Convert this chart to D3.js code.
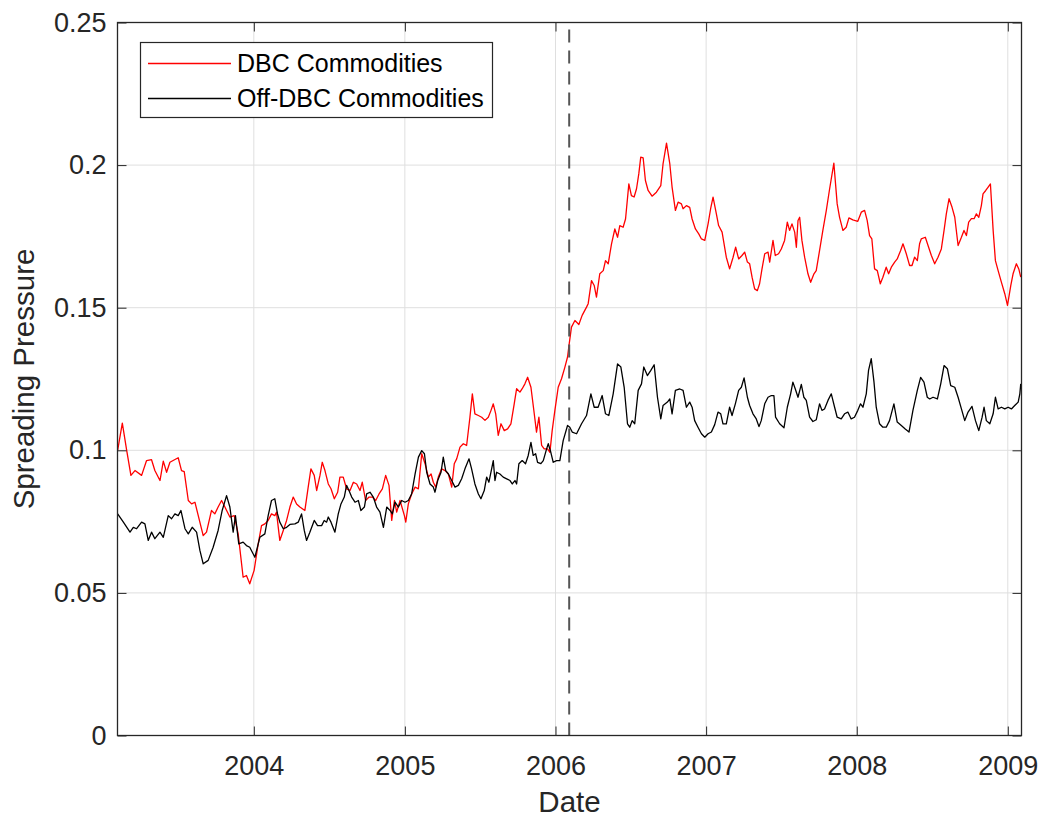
<!DOCTYPE html>
<html><head><meta charset="utf-8">
<script src="https://cdn.jsdelivr.net/npm/d3@7"></script>
<style>
html,body{margin:0;padding:0;background:#fff;}
svg{display:block;font-family:"Liberation Sans",Arial,Helvetica,sans-serif;}
</style></head><body>
<svg id="chart" width="1040" height="819"></svg>
<script>
// ---------------- data ----------------
const xTickYears = [2004, 2005, 2006, 2007, 2008, 2009];
const yTicks = [0, 0.05, 0.1, 0.15, 0.2, 0.25];
const xDomainYears = [2003.095, 2009.091];
const yDomain = [0, 0.25];
const launchYear = 2006.091;   // DBC launch (dashed line)
const seriesNames = ["DBC Commodities", "Off-DBC Commodities"];
const xLabel = "Date";
const yLabel = "Spreading Pressure";

// [decimal year, value]
const dbcPoints = [
[2003.096,0.1000],[2003.127,0.1095],[2003.156,0.1000],[2003.184,0.0912],[2003.211,0.0929],[2003.255,0.0912],
[2003.288,0.0964],[2003.321,0.0967],[2003.343,0.0929],[2003.377,0.0894],[2003.399,0.0962],[2003.421,0.0923],
[2003.443,0.0958],[2003.498,0.0974],[2003.520,0.0929],[2003.538,0.0925],[2003.565,0.0824],[2003.587,0.0812],
[2003.609,0.0818],[2003.664,0.0701],[2003.686,0.0713],[2003.719,0.0789],[2003.741,0.0777],[2003.763,0.0801],
[2003.786,0.0824],[2003.808,0.0801],[2003.841,0.0766],[2003.870,0.0771],[2003.896,0.0707],[2003.929,0.0555],
[2003.951,0.0561],[2003.973,0.0532],[2004.002,0.0579],[2004.029,0.0672],[2004.051,0.0736],
[2004.073,0.0742],[2004.095,0.0754],[2004.117,0.0777],[2004.139,0.0771],[2004.150,0.0783],[2004.172,0.0684],
[2004.195,0.0719],[2004.217,0.0754],[2004.239,0.0801],[2004.261,0.0836],[2004.283,0.0812],[2004.305,0.0801],
[2004.338,0.0789],[2004.360,0.0871],[2004.378,0.0935],[2004.400,0.0912],[2004.416,0.0859],[2004.438,0.0912],
[2004.453,0.0958],[2004.471,0.0929],[2004.493,0.0882],[2004.511,0.0865],[2004.533,0.0830],[2004.555,0.0853],
[2004.570,0.0906],[2004.592,0.0906],[2004.614,0.0865],[2004.637,0.0859],[2004.659,0.0888],[2004.681,0.0882],
[2004.703,0.0859],[2004.718,0.0888],[2004.740,0.0824],[2004.763,0.0836],[2004.785,0.0836],[2004.807,0.0824],
[2004.829,0.0847],[2004.851,0.0865],[2004.873,0.0912],[2004.895,0.0877],[2004.913,0.0754],[2004.931,0.0824],
[2004.946,0.0783],[2004.968,0.0824],[2004.997,0.0771],[2005.006,0.0748],[2005.023,0.0812],[2005.045,0.0847],
[2005.068,0.0871],[2005.090,0.0865],[2005.112,0.0988],[2005.134,0.0953],[2005.156,0.0906],[2005.174,0.0917],
[2005.189,0.0888],[2005.205,0.0871],[2005.222,0.0906],[2005.244,0.0935],[2005.267,0.0929],[2005.289,0.0917],
[2005.311,0.0871],[2005.328,0.0953],[2005.344,0.0970],[2005.366,0.1011],[2005.388,0.1023],[2005.410,0.1017],
[2005.432,0.1116],[2005.448,0.1198],[2005.465,0.1128],[2005.488,0.1122],[2005.510,0.1116],[2005.532,0.1105],
[2005.554,0.1116],[2005.572,0.1140],[2005.587,0.1163],[2005.603,0.1128],[2005.620,0.1052],[2005.638,0.1093],
[2005.660,0.1069],[2005.682,0.1075],[2005.704,0.1093],[2005.726,0.1163],[2005.742,0.1216],[2005.764,0.1204],
[2005.779,0.1216],[2005.797,0.1233],[2005.815,0.1256],[2005.837,0.1221],[2005.859,0.1128],[2005.874,0.1064],
[2005.890,0.1116],[2005.908,0.1017],[2005.925,0.1005],[2005.947,0.1005],[2005.963,0.0993],[2005.978,0.1069],
[2005.996,0.1140],[2006.018,0.1221],[2006.040,0.1251],[2006.062,0.1291],[2006.080,0.1327],[2006.091,0.1373],
[2006.106,0.1432],[2006.129,0.1455],[2006.155,0.1441],[2006.177,0.1473],[2006.206,0.1502],[2006.217,0.1514],
[2006.239,0.1595],[2006.257,0.1578],[2006.272,0.1537],[2006.294,0.1619],[2006.317,0.1630],[2006.332,0.1665],
[2006.350,0.1654],[2006.372,0.1724],[2006.394,0.1776],[2006.412,0.1747],[2006.427,0.1788],[2006.449,0.1782],
[2006.465,0.1811],[2006.487,0.1934],[2006.504,0.1893],[2006.522,0.1888],[2006.538,0.1917],[2006.553,0.1969],
[2006.566,0.2028],[2006.582,0.2025],[2006.597,0.1946],[2006.615,0.1911],[2006.641,0.1891],[2006.670,0.1905],
[2006.699,0.1928],[2006.714,0.2004],[2006.737,0.2077],[2006.759,0.2004],[2006.774,0.1923],[2006.796,0.1841],
[2006.814,0.1870],[2006.836,0.1864],[2006.847,0.1847],[2006.869,0.1858],[2006.891,0.1852],[2006.907,0.1811],
[2006.929,0.1776],[2006.951,0.1759],[2006.969,0.1741],[2006.991,0.1736],[2007.013,0.1794],[2007.030,0.1847],
[2007.046,0.1888],[2007.068,0.1829],[2007.083,0.1788],[2007.106,0.1765],[2007.134,0.1677],[2007.156,0.1636],
[2007.179,0.1677],[2007.196,0.1712],[2007.216,0.1671],[2007.238,0.1683],[2007.256,0.1695],[2007.274,0.1660],
[2007.289,0.1654],[2007.305,0.1607],[2007.322,0.1566],[2007.340,0.1560],[2007.355,0.1584],[2007.371,0.1636],
[2007.389,0.1689],[2007.411,0.1695],[2007.422,0.1660],[2007.444,0.1736],[2007.459,0.1683],[2007.481,0.1689],
[2007.499,0.1706],[2007.521,0.1736],[2007.539,0.1800],[2007.554,0.1771],[2007.570,0.1794],[2007.588,0.1765],
[2007.599,0.1712],[2007.610,0.1806],[2007.621,0.1817],[2007.636,0.1736],[2007.654,0.1677],[2007.676,0.1619],
[2007.694,0.1589],[2007.716,0.1619],[2007.731,0.1630],[2007.753,0.1700],[2007.775,0.1771],[2007.798,0.1841],
[2007.820,0.1917],[2007.848,0.2007],[2007.870,0.1864],[2007.886,0.1817],[2007.908,0.1771],[2007.930,0.1782],
[2007.948,0.1815],[2007.974,0.1808],[2008.007,0.1803],[2008.030,0.1835],[2008.052,0.1841],[2008.069,0.1806],
[2008.085,0.1753],[2008.100,0.1741],[2008.118,0.1636],[2008.136,0.1630],[2008.156,0.1584],[2008.173,0.1607],
[2008.195,0.1642],[2008.211,0.1619],[2008.229,0.1642],[2008.251,0.1660],[2008.268,0.1671],[2008.290,0.1700],
[2008.306,0.1724],[2008.328,0.1689],[2008.350,0.1648],[2008.366,0.1648],[2008.383,0.1677],[2008.401,0.1665],
[2008.416,0.1724],[2008.427,0.1741],[2008.454,0.1747],[2008.472,0.1718],[2008.494,0.1683],[2008.516,0.1654],
[2008.538,0.1677],[2008.560,0.1706],[2008.578,0.1771],[2008.593,0.1829],[2008.611,0.1882],[2008.631,0.1852],
[2008.649,0.1817],[2008.671,0.1718],[2008.693,0.1747],[2008.710,0.1771],[2008.726,0.1753],[2008.741,0.1800],
[2008.759,0.1812],[2008.777,0.1812],[2008.792,0.1829],[2008.808,0.1817],[2008.825,0.1858],[2008.836,0.1899],
[2008.854,0.1911],[2008.870,0.1923],[2008.885,0.1934],[2008.903,0.1771],[2008.918,0.1665],[2008.936,0.1630],
[2008.958,0.1589],[2008.980,0.1549],[2008.998,0.1508],[2009.020,0.1578],[2009.035,0.1619],[2009.057,0.1654],
[2009.073,0.1636],[2009.086,0.1607]
];

const offPoints = [
[2003.096,0.0777],[2003.134,0.0748],[2003.178,0.0713],[2003.200,0.0730],[2003.222,0.0725],[2003.255,0.0748],
[2003.277,0.0742],[2003.299,0.0684],[2003.321,0.0713],[2003.343,0.0690],[2003.377,0.0713],[2003.399,0.0695],
[2003.432,0.0771],[2003.454,0.0760],[2003.476,0.0777],[2003.498,0.0771],[2003.516,0.0789],[2003.543,0.0725],
[2003.565,0.0707],[2003.591,0.0730],[2003.620,0.0713],[2003.642,0.0649],[2003.664,0.0602],[2003.697,0.0614],
[2003.730,0.0660],[2003.763,0.0719],[2003.790,0.0789],[2003.819,0.0841],[2003.841,0.0801],[2003.863,0.0713],
[2003.878,0.0771],[2003.900,0.0672],[2003.929,0.0678],[2003.951,0.0666],[2003.973,0.0660],[2004.007,0.0625],
[2004.040,0.0695],[2004.073,0.0707],[2004.095,0.0771],[2004.117,0.0824],[2004.139,0.0830],[2004.157,0.0777],
[2004.172,0.0748],[2004.195,0.0725],[2004.217,0.0730],[2004.239,0.0740],[2004.272,0.0742],[2004.294,0.0748],
[2004.316,0.0777],[2004.334,0.0719],[2004.349,0.0684],[2004.371,0.0713],[2004.400,0.0754],[2004.422,0.0736],
[2004.449,0.0736],[2004.466,0.0754],[2004.482,0.0748],[2004.493,0.0766],[2004.511,0.0748],[2004.537,0.0713],
[2004.559,0.0777],[2004.577,0.0812],[2004.599,0.0836],[2004.614,0.0877],[2004.630,0.0859],[2004.648,0.0836],
[2004.670,0.0818],[2004.692,0.0824],[2004.709,0.0789],[2004.732,0.0801],[2004.747,0.0847],[2004.769,0.0853],
[2004.791,0.0836],[2004.813,0.0801],[2004.835,0.0783],[2004.858,0.0730],[2004.880,0.0801],[2004.902,0.0789],
[2004.917,0.0777],[2004.935,0.0818],[2004.957,0.0801],[2004.979,0.0824],[2005.001,0.0818],[2005.023,0.0824],
[2005.045,0.0847],[2005.068,0.0917],[2005.090,0.0976],[2005.112,0.0999],[2005.130,0.0988],[2005.145,0.0923],
[2005.167,0.0882],[2005.189,0.0871],[2005.200,0.0853],[2005.218,0.0894],[2005.240,0.0923],[2005.255,0.0976],
[2005.271,0.0929],[2005.289,0.0917],[2005.311,0.0894],[2005.333,0.0871],[2005.355,0.0877],[2005.377,0.0900],
[2005.399,0.0935],[2005.426,0.0970],[2005.443,0.0935],[2005.465,0.0882],[2005.488,0.0847],[2005.505,0.0830],
[2005.527,0.0859],[2005.543,0.0906],[2005.558,0.0888],[2005.576,0.0935],[2005.587,0.0964],[2005.598,0.0894],
[2005.609,0.0923],[2005.631,0.0917],[2005.653,0.0906],[2005.676,0.0900],[2005.698,0.0894],[2005.713,0.0882],
[2005.731,0.0894],[2005.742,0.0882],[2005.757,0.0953],[2005.779,0.0964],[2005.801,0.0953],[2005.819,0.0982],
[2005.837,0.1028],[2005.852,0.0982],[2005.868,0.0988],[2005.881,0.0958],[2005.903,0.0953],[2005.919,0.0964],
[2005.941,0.1005],[2005.952,0.1023],[2005.969,0.0993],[2005.985,0.0958],[2006.007,0.0964],[2006.029,0.0964],
[2006.051,0.1034],[2006.080,0.1087],[2006.095,0.1081],[2006.111,0.1064],[2006.140,0.1058],[2006.173,0.1093],
[2006.206,0.1122],[2006.235,0.1198],[2006.257,0.1151],[2006.283,0.1151],[2006.310,0.1192],[2006.332,0.1128],
[2006.354,0.1122],[2006.383,0.1198],[2006.412,0.1303],[2006.434,0.1292],[2006.456,0.1221],[2006.478,0.1093],
[2006.493,0.1081],[2006.509,0.1104],[2006.526,0.1093],[2006.549,0.1210],[2006.571,0.1233],[2006.586,0.1292],
[2006.610,0.1262],[2006.633,0.1280],[2006.655,0.1300],[2006.677,0.1186],[2006.699,0.1110],[2006.714,0.1157],
[2006.743,0.1169],[2006.759,0.1180],[2006.774,0.1128],[2006.796,0.1210],[2006.825,0.1215],[2006.847,0.1210],
[2006.869,0.1151],[2006.891,0.1169],[2006.907,0.1151],[2006.924,0.1104],[2006.946,0.1081],[2006.969,0.1058],
[2006.991,0.1046],[2007.013,0.1058],[2007.035,0.1064],[2007.057,0.1090],[2007.079,0.1134],[2007.097,0.1128],
[2007.112,0.1093],[2007.134,0.1093],[2007.156,0.1151],[2007.172,0.1122],[2007.194,0.1163],[2007.216,0.1210],
[2007.234,0.1221],[2007.252,0.1254],[2007.274,0.1186],[2007.289,0.1157],[2007.311,0.1128],[2007.333,0.1110],
[2007.351,0.1083],[2007.366,0.1104],[2007.389,0.1163],[2007.411,0.1186],[2007.433,0.1192],[2007.450,0.1192],
[2007.461,0.1116],[2007.488,0.1093],[2007.517,0.1079],[2007.539,0.1151],[2007.561,0.1198],[2007.576,0.1239],
[2007.592,0.1215],[2007.610,0.1186],[2007.632,0.1231],[2007.649,0.1186],[2007.665,0.1175],[2007.687,0.1116],
[2007.709,0.1101],[2007.731,0.1107],[2007.753,0.1163],[2007.769,0.1140],[2007.786,0.1145],[2007.809,0.1175],
[2007.831,0.1198],[2007.853,0.1151],[2007.870,0.1116],[2007.897,0.1110],[2007.919,0.1128],[2007.941,0.1134],
[2007.963,0.1110],[2007.985,0.1116],[2008.007,0.1140],[2008.025,0.1163],[2008.041,0.1151],[2008.063,0.1198],
[2008.078,0.1280],[2008.096,0.1321],[2008.114,0.1240],[2008.129,0.1151],[2008.151,0.1093],[2008.173,0.1081],
[2008.195,0.1081],[2008.217,0.1104],[2008.246,0.1163],[2008.268,0.1099],[2008.295,0.1087],[2008.321,0.1075],
[2008.346,0.1064],[2008.372,0.1140],[2008.401,0.1210],[2008.423,0.1256],[2008.445,0.1239],[2008.467,0.1186],
[2008.483,0.1180],[2008.505,0.1186],[2008.534,0.1180],[2008.556,0.1233],[2008.578,0.1297],[2008.600,0.1286],
[2008.622,0.1227],[2008.649,0.1221],[2008.671,0.1186],[2008.693,0.1145],[2008.715,0.1104],[2008.737,0.1134],
[2008.763,0.1154],[2008.786,0.1104],[2008.808,0.1069],[2008.830,0.1116],[2008.843,0.1151],[2008.858,0.1104],
[2008.881,0.1093],[2008.903,0.1128],[2008.918,0.1186],[2008.936,0.1145],[2008.958,0.1151],[2008.980,0.1145],
[2009.002,0.1151],[2009.024,0.1145],[2009.046,0.1157],[2009.069,0.1169],[2009.080,0.1198],[2009.086,0.1233]
];

// ---------------- helpers ----------------
function yearToDate(y) {
  const yr = Math.floor(y);
  const a = Date.UTC(yr, 0, 1), b = Date.UTC(yr + 1, 0, 1);
  return new Date(a + (y - yr) * (b - a));
}

// ---------------- layout ----------------
const svg = d3.select("#chart");
const plot = { left: 117.5, right: 1021.5, top: 22.5, bottom: 735.5 };
const axisColor = "#262626";
const tickFont = 27, legendFont = 25, labelFont = 29.5;

const x = d3.scaleUtc()
  .domain(xDomainYears.map(yearToDate))
  .range([plot.left, plot.right]);
const y = d3.scaleLinear().domain(yDomain).range([plot.bottom, plot.top]);

const fmtY = d => String(+d.toFixed(2));
const xTicks = xTickYears.map(yr => new Date(Date.UTC(yr, 0, 1)));

// grid
const grid = svg.append("g").attr("class", "grid");
grid.selectAll("line.gx").data(xTicks).join("line")
  .attr("x1", d => x(d)).attr("x2", d => x(d))
  .attr("y1", plot.top).attr("y2", plot.bottom)
  .attr("stroke", "#dfdfdf").attr("stroke-width", 1);
grid.selectAll("line.gy").data(yTicks).join("line")
  .attr("x1", plot.left).attr("x2", plot.right)
  .attr("y1", d => y(d)).attr("y2", d => y(d))
  .attr("stroke", "#dfdfdf").attr("stroke-width", 1);

// lines
const line = d3.line()
  .x(d => x(yearToDate(d[0])))
  .y(d => y(d[1]));

svg.append("clipPath").attr("id", "clip").append("rect")
  .attr("x", plot.left).attr("y", plot.top)
  .attr("width", plot.right - plot.left).attr("height", plot.bottom - plot.top);

const lines = svg.append("g").attr("clip-path", "url(#clip)");
lines.append("path").datum(dbcPoints)
  .attr("d", line).attr("fill", "none")
  .attr("stroke", "#ff0000").attr("stroke-width", 1.3).attr("stroke-linejoin", "round");
lines.append("path").datum(offPoints)
  .attr("d", line).attr("fill", "none")
  .attr("stroke", "#000000").attr("stroke-width", 1.3).attr("stroke-linejoin", "round");

// dashed launch line
const launchX = x(yearToDate(launchYear));
svg.append("line")
  .attr("x1", launchX).attr("x2", launchX)
  .attr("y1", y(yDomain[0])).attr("y2", y(yDomain[1]))
  .attr("stroke", "#555555").attr("stroke-width", 2)
  .attr("stroke-dasharray", "13,8");

// axes
function styleAxis(g) {
  g.select(".domain").remove();
  g.selectAll(".tick line").attr("stroke", axisColor).attr("stroke-width", 1);
  g.selectAll(".tick text").attr("fill", axisColor).attr("font-size", tickFont)
    .attr("font-family", "'Liberation Sans', Arial, sans-serif");
}

svg.append("g").attr("transform", `translate(0,${plot.bottom})`)
  .call(d3.axisBottom(x).tickValues(xTicks).tickFormat(d3.utcFormat("%Y"))
    .tickSize(-9).tickPadding(20.5))
  .call(styleAxis);
svg.append("g").attr("transform", `translate(0,${plot.top})`)
  .call(d3.axisTop(x).tickValues(xTicks).tickFormat("").tickSize(-9))
  .call(styleAxis);
svg.append("g").attr("transform", `translate(${plot.left},0)`)
  .call(d3.axisLeft(y).tickValues(yTicks).tickFormat(fmtY).tickSize(-9).tickPadding(11))
  .call(styleAxis);
svg.append("g").attr("transform", `translate(${plot.right},0)`)
  .call(d3.axisRight(y).tickValues(yTicks).tickFormat("").tickSize(-9))
  .call(styleAxis);

// box
svg.append("rect")
  .attr("x", plot.left).attr("y", plot.top)
  .attr("width", plot.right - plot.left).attr("height", plot.bottom - plot.top)
  .attr("fill", "none").attr("stroke", axisColor).attr("stroke-width", 1.3);

// axis labels
svg.append("text")
  .attr("x", (plot.left + plot.right) / 2).attr("y", 812)
  .attr("text-anchor", "middle").attr("font-size", labelFont).attr("fill", axisColor)
  .text(xLabel);
svg.append("text")
  .attr("transform", `translate(33.5,${(plot.top + plot.bottom) / 2}) rotate(-90)`)
  .attr("text-anchor", "middle").attr("font-size", labelFont).attr("fill", axisColor)
  .text(yLabel);

// legend
const legend = svg.append("g");
legend.append("rect")
  .attr("x", 140.5).attr("y", 42.5).attr("width", 352).attr("height", 75)
  .attr("fill", "#ffffff").attr("stroke", axisColor).attr("stroke-width", 1.2);
const legendColors = ["#ff0000", "#000000"];
seriesNames.forEach((name, i) => {
  const cy = 63.5 + i * 35;
  legend.append("line").attr("x1", 148).attr("x2", 231).attr("y1", cy).attr("y2", cy)
    .attr("stroke", legendColors[i]).attr("stroke-width", 1.3);
  legend.append("text").attr("x", 237).attr("y", cy).attr("dy", "0.35em")
    .attr("font-size", legendFont).attr("fill", "#000").text(name);
});
</script>
</body></html>
